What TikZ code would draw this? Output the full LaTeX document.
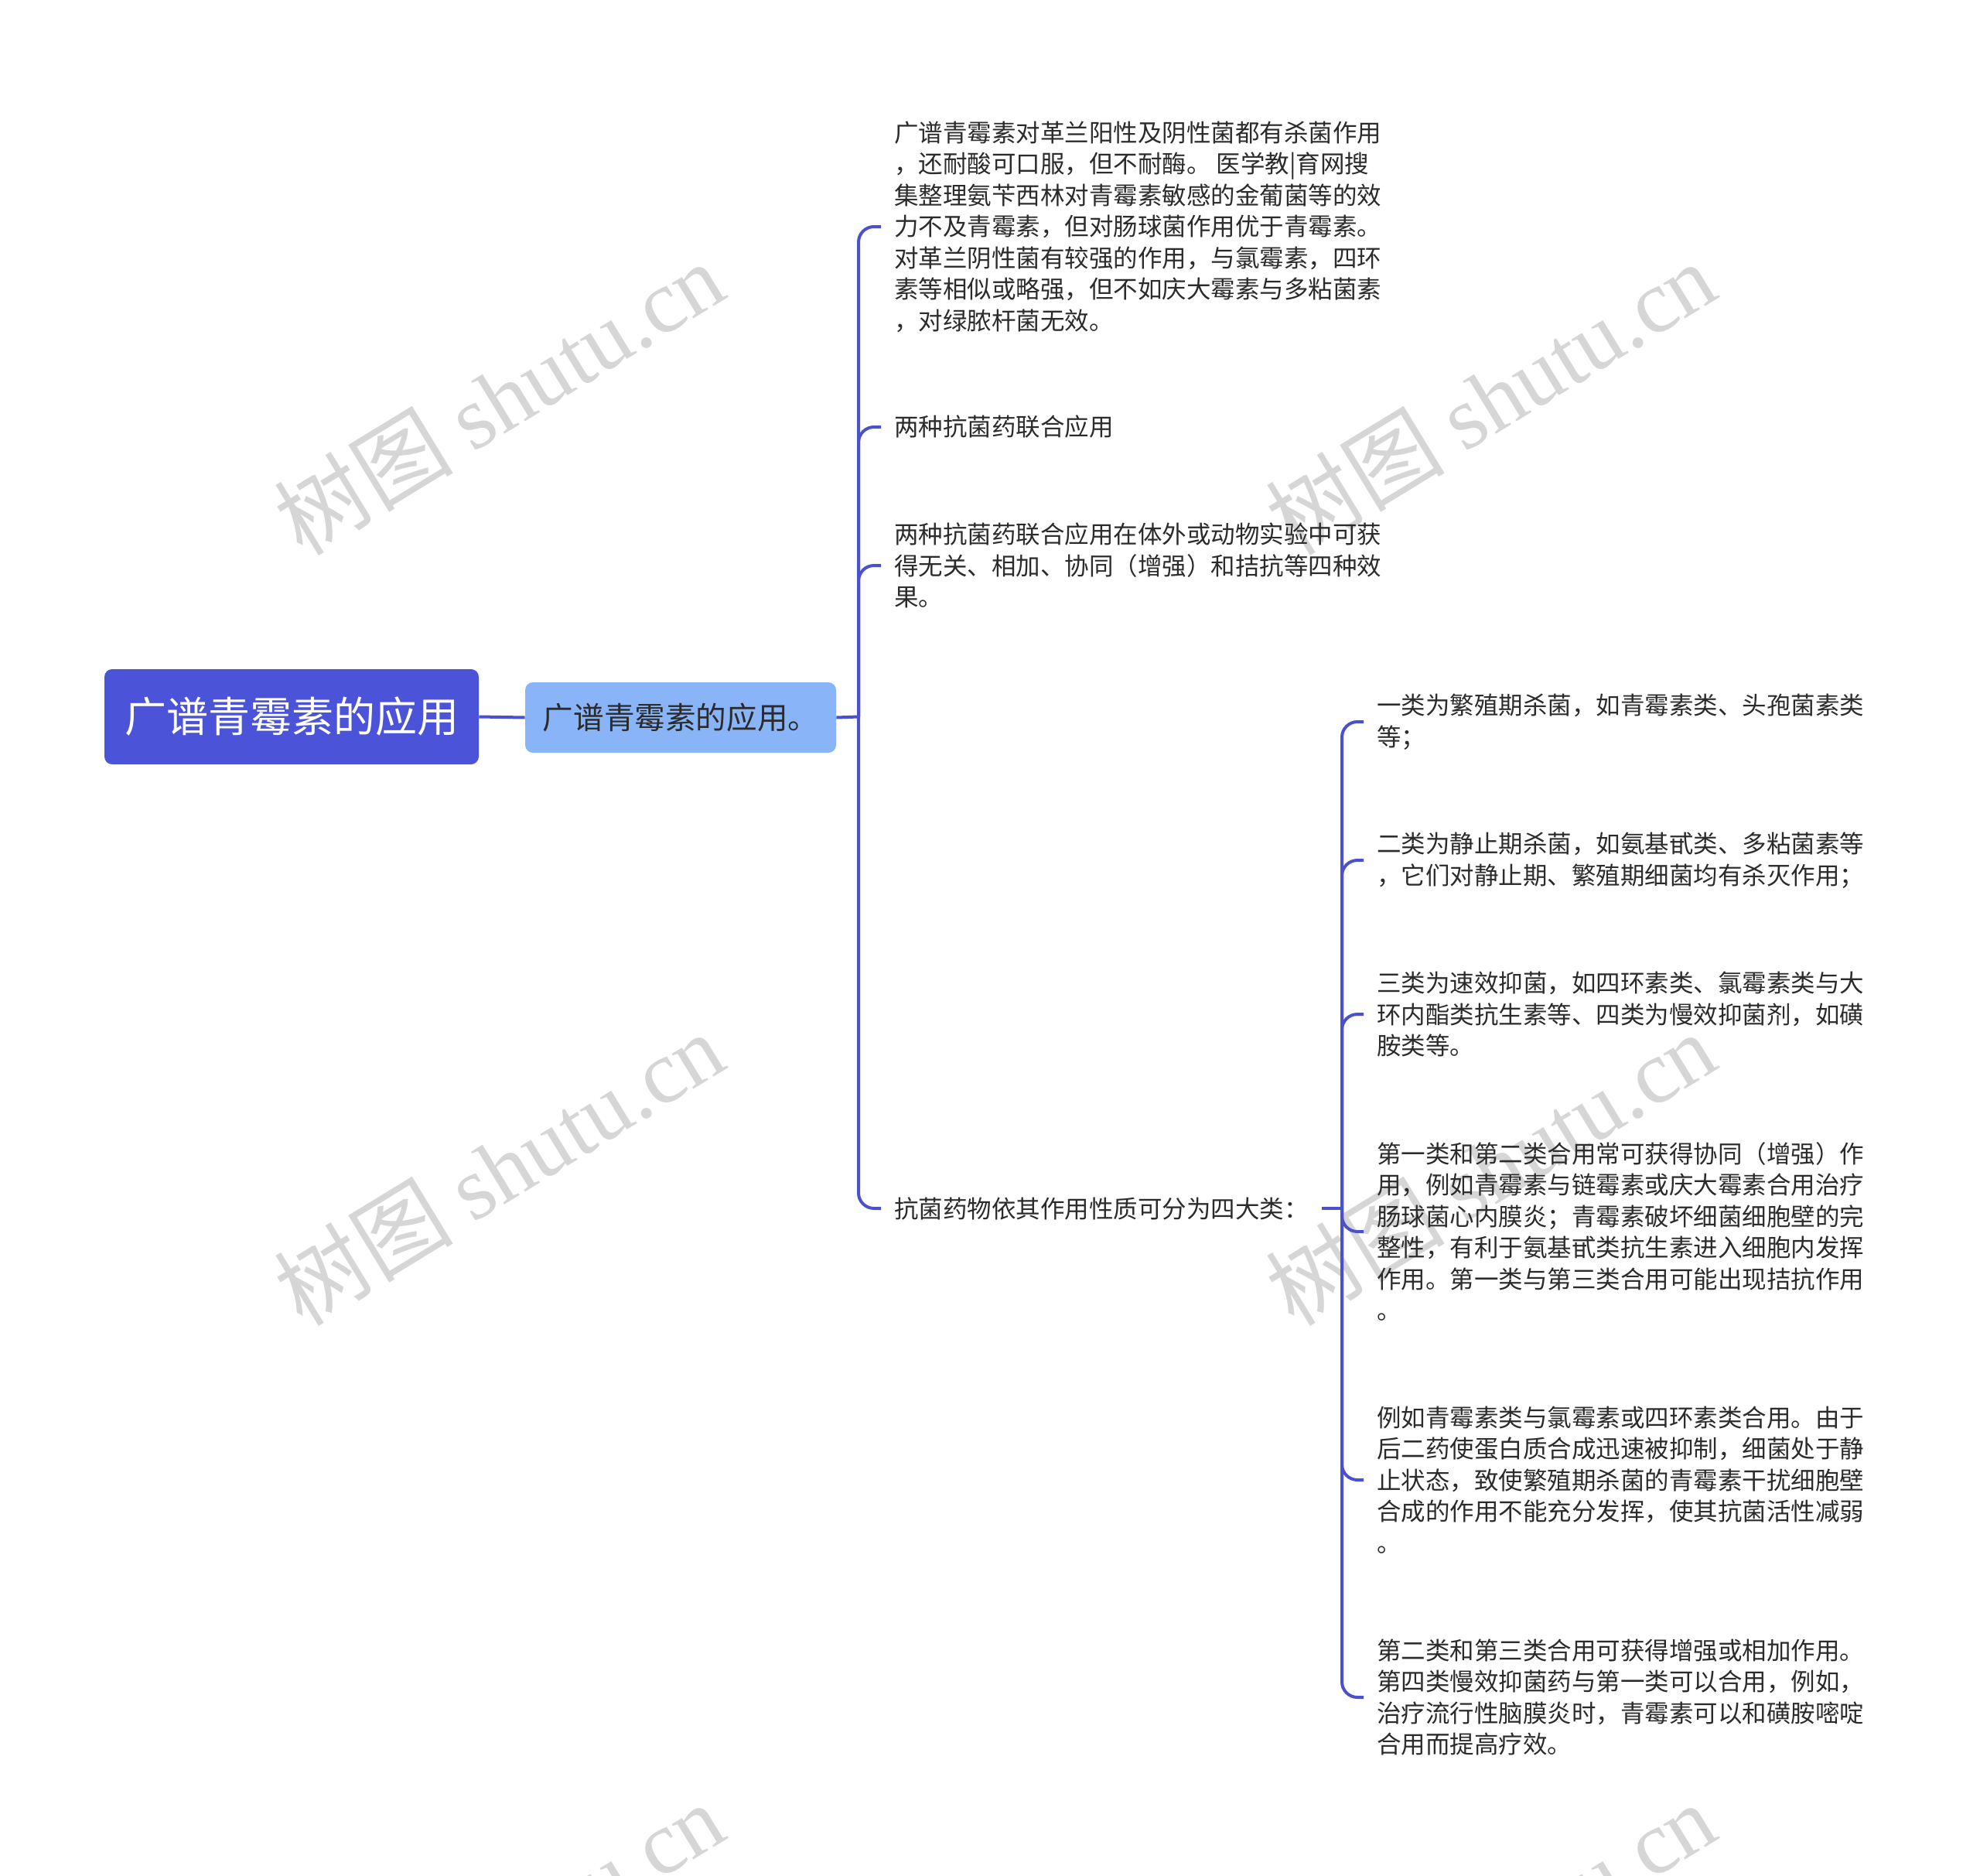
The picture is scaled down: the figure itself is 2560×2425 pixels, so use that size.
\documentclass[tikz,border=0pt]{standalone}
\usepackage{fontspec}
\setmainfont{Noto Sans CJK SC}
\newfontfamily\wmserif{Liberation Serif}
\definecolor{rootc}{HTML}{4B53D8}
\definecolor{linec}{HTML}{4B51CC}
\definecolor{lonec}{HTML}{8AB4F8}
\definecolor{textc}{HTML}{2B2B2B}
\definecolor{wmc}{HTML}{D6D6D6}
\begin{document}
\begin{tikzpicture}[x=0.5pt,y=-0.5pt,
  conn/.style={draw=linec,line width=2pt},
  bconn/.style={draw=linec,line width=2pt,rounded corners=10pt},
  leaf/.style={anchor=west,align=left,inner xsep=8.5pt,inner ysep=2pt,text=textc,
    font=\fontsize{15.75pt}{20.25pt}\selectfont},
  wmark/.style={rotate=31.4,text=wmc,font=\fontsize{58pt}{58pt}\selectfont}]
\useasboundingbox (0,0) rectangle (2560,2425);
\clip (0,0) rectangle (2560,2425);
% watermarks
\foreach \i/\wx/\wy in {1/645/514,2/1927/514,3/645/1510,4/1927/1510,5/645/2506,6/1927/2506}{
  \node[wmark] (wm\i) at (\wx,\wy) {树图 {\wmserif shutu.cn}};
}
% main nodes
\node[fill=rootc,rounded corners=5pt,minimum width=242pt,minimum height=61.5pt,
  text=white,font=\fontsize{27pt}{27pt}\selectfont] (root) at (377,926.5) {广谱青霉素的应用};
\node[fill=lonec,rounded corners=5pt,minimum width=201pt,minimum height=45.5pt,
  text=textc,font=\fontsize{19.8pt}{19.8pt}\selectfont] (l1) at (880,927.5) {广谱青霉素的应用。};
% level-2 nodes
\node[leaf] (b1) at (1139,293) {广谱青霉素对革兰阳性及阴性菌都有杀菌作用\\，还耐酸可口服，但不耐酶。 医学教|育网搜\\集整理氨苄西林对青霉素敏感的金葡菌等的效\\力不及青霉素，但对肠球菌作用优于青霉素。\\对革兰阴性菌有较强的作用，与氯霉素，四环\\素等相似或略强，但不如庆大霉素与多粘菌素\\，对绿脓杆菌无效。};
\node[leaf] (b2) at (1139,552) {两种抗菌药联合应用};
\node[leaf] (b3) at (1139,731) {两种抗菌药联合应用在体外或动物实验中可获\\得无关、相加、协同（增强）和拮抗等四种效\\果。};
\node[leaf] (b4) at (1139,1562) {抗菌药物依其作用性质可分为四大类：};
% level-3 nodes
\node[leaf] (s1) at (1763,933) {一类为繁殖期杀菌，如青霉素类、头孢菌素类\\等；};
\node[leaf] (s2) at (1763,1112) {二类为静止期杀菌，如氨基甙类、多粘菌素等\\，它们对静止期、繁殖期细菌均有杀灭作用；};
\node[leaf] (s3) at (1763,1311) {三类为速效抑菌，如四环素类、氯霉素类与大\\环内酯类抗生素等、四类为慢效抑菌剂，如磺\\胺类等。};
\node[leaf] (s4) at (1763,1592) {第一类和第二类合用常可获得协同（增强）作\\用，例如青霉素与链霉素或庆大霉素合用治疗\\肠球菌心内膜炎；青霉素破坏细菌细胞壁的完\\整性，有利于氨基甙类抗生素进入细胞内发挥\\作用。第一类与第三类合用可能出现拮抗作用\\。};
\node[leaf] (s5) at (1763,1913) {例如青霉素类与氯霉素或四环素类合用。由于\\后二药使蛋白质合成迅速被抑制，细菌处于静\\止状态，致使繁殖期杀菌的青霉素干扰细胞壁\\合成的作用不能充分发挥，使其抗菌活性减弱\\。};
\node[leaf] (s6) at (1763,2194) {第二类和第三类合用可获得增强或相加作用。\\第四类慢效抑菌药与第一类可以合用，例如，\\治疗流行性脑膜炎时，青霉素可以和磺胺嘧啶\\合用而提高疗效。};
% junction coordinates
\coordinate (t1) at (1110,926.5);
\coordinate (t2) at (1735,1562);
% connectors
\draw[conn] (root.east) -- (l1.west);
\draw[conn] (l1.east) -- (t1);
\foreach \b in {b1,b2,b3,b4}{ \draw[bconn] (t1) |- (\b.west); }
\draw[conn] (b4.east) -- (t2);
\foreach \s in {s1,s2,s3,s4,s5,s6}{ \draw[bconn] (t2) |- (\s.west); }
\end{tikzpicture}
\end{document}
